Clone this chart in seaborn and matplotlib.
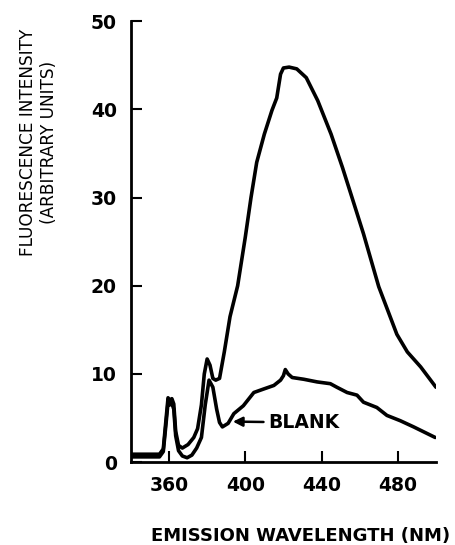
import matplotlib
matplotlib.use("Agg")
import matplotlib.pyplot as plt
import seaborn as sns
import pandas as pd

# Sample spectrum
sample_wl = [340, 355, 357, 358.5, 359.5, 360.5, 361.5, 362.5, 363.5, 365, 367, 370, 373, 375, 377,
             378.5, 380, 381.5, 383, 384.5, 386.5, 389, 392, 396, 400, 403, 406, 410, 414, 416.5,
             418.5, 420, 423, 427, 432, 438, 445, 451, 456, 462, 470, 479.5, 485, 492, 500]
sample_val = [0.9, 0.9, 1.5, 5.0, 7.3, 7.0, 7.2, 6.6, 3.5, 1.9, 1.6, 2.0, 2.8, 3.8, 6.5,
              10.0, 11.7, 11.0, 9.5, 9.3, 9.5, 12.5, 16.5, 20.0, 25.5, 30.0, 34.0, 37.2, 39.9, 41.3,
              44.0, 44.7, 44.8, 44.6, 43.6, 41.0, 37.2, 33.4, 30.0, 25.9, 19.9, 14.5, 12.5, 10.8, 8.5]

# Blank spectrum
blank_wl = [340, 355, 357, 358.5, 359.5, 360.5, 361.5, 362.5, 363.5, 365, 367, 369.5, 372, 374.5, 377,
            379, 381, 383, 385, 386.5, 388, 391, 394, 399, 404.5, 409.7, 415, 418.5, 420, 421,
            422.5, 424.6, 430.7, 437.7, 444.6, 448, 453.4, 458.6, 462, 469, 474.3, 481.3, 488.3, 499.6]
blank_val = [0.6, 0.6, 1.2, 4.5, 6.8, 6.5, 6.7, 6.0, 3.0, 1.3, 0.7, 0.5, 0.8, 1.6, 2.8,
             6.5, 9.3, 8.5, 6.0, 4.5, 4.0, 4.4, 5.5, 6.4, 7.9, 8.3, 8.7, 9.3, 9.8, 10.5,
             10.0, 9.6, 9.4, 9.1, 8.9, 8.5, 7.9, 7.6, 6.8, 6.2, 5.3, 4.7, 4.0, 2.8]

x_ticks = [360, 400, 440, 480]
y_ticks = [0, 10, 20, 30, 40, 50]

sns.set_style("ticks")
plt.rcParams['font.family'] = ['DejaVu Sans']
plt.rcParams.update({"text.color": "black", "axes.labelcolor": "black",
                     "xtick.color": "black", "ytick.color": "black",
                     "axes.edgecolor": "black"})

fig = plt.figure(figsize=(4.56, 5.45), dpi=100)
ax = fig.add_axes([0.287, 0.152, 0.669, 0.809])

df_s = pd.DataFrame({"wl": sample_wl, "val": sample_val})
df_b = pd.DataFrame({"wl": blank_wl, "val": blank_val})
sns.lineplot(data=df_s, x="wl", y="val", ax=ax, color="black", linewidth=2.6, sort=False)
sns.lineplot(data=df_b, x="wl", y="val", ax=ax, color="black", linewidth=2.6, sort=False)

ax.set_xlim(340, 500)
ax.set_ylim(0, 50)
ax.set_xticks(x_ticks)
ax.set_yticks(y_ticks)
ax.set_xticklabels([str(t) for t in x_ticks], fontsize=13.5, fontweight="bold", color="black")
ax.set_yticklabels([str(t) for t in y_ticks], fontsize=13.5, fontweight="bold", color="black")
ax.tick_params(axis="both", direction="in", length=8, width=1.5, colors="black")
ax.tick_params(axis="x", pad=10)
ax.tick_params(axis="y", pad=10)
for s in ["top", "right"]:
    ax.spines[s].set_visible(False)
for s in ["left", "bottom"]:
    ax.spines[s].set_linewidth(2.0)
    ax.spines[s].set_color("black")

ax.set_xlabel("EMISSION WAVELENGTH (NM)", fontsize=13, fontweight="bold", color="black")
ax.xaxis.set_label_coords(0.555, -0.147)
ax.set_ylabel("FLUORESCENCE INTENSITY\n(ARBITRARY UNITS)", fontsize=12.2, linespacing=1.2,
              color="black")
ax.yaxis.set_label_coords(-0.24, 0.726)

ax.annotate("BLANK", xy=(393.5, 4.6), xytext=(412, 4.5), fontsize=13.5, fontweight="bold",
            va="center", ha="left", color="black",
            arrowprops=dict(arrowstyle="-|>", color="black", lw=1.8, mutation_scale=14,
                            shrinkA=1, shrinkB=0))

fig.savefig("out.png", dpi=100, facecolor="white")
